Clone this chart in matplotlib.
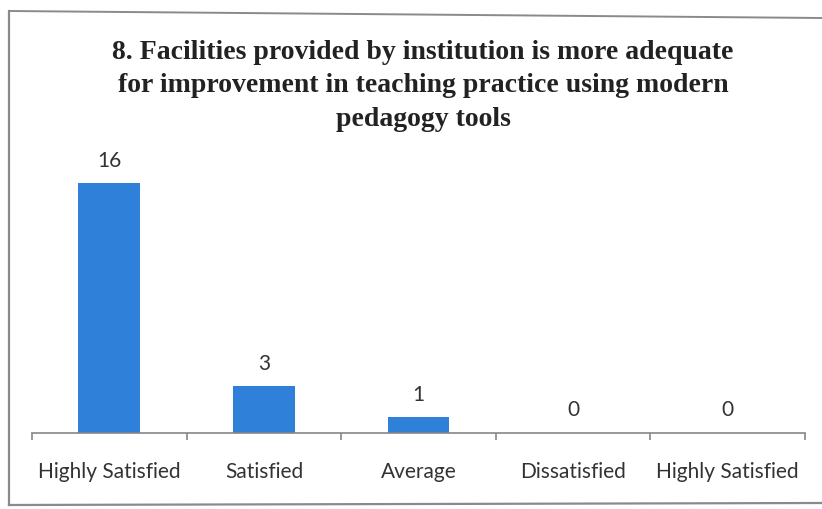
import matplotlib
matplotlib.use("Agg")
import matplotlib.pyplot as plt
from matplotlib.lines import Line2D

categories = ["Highly Satisfied", "Satisfied", "Average", "Dissatisfied", "Highly Satisfied"]
values = [16, 3, 1, 0, 0]
title = ("8. Facilities provided by institution is more adequate\n"
         "for improvement in teaching practice using modern\n"
         "pedagogy tools")

W, H = 822, 509
fig = plt.figure(figsize=(W / 100, H / 100), dpi=100)
fig.patch.set_facecolor("white")

# scanned frame
fig.add_artist(Line2D([9 / W, 9 / W], [1 - 11 / H, 1 - 505 / H], color="#8a8a8a", lw=1.6))
fig.add_artist(Line2D([9 / W, 1.0], [1 - 11 / H, 1 - 18 / H], color="#8a8a8a", lw=1.4))
fig.add_artist(Line2D([9 / W, 1.0], [1 - 505 / H, 1 - 503 / H], color="#8a8a8a", lw=1.6))

ax_left, ax_right, ax_bottom, ax_top = 32, 805, 433, 150
ax = fig.add_axes([ax_left / W, 1 - ax_bottom / H, (ax_right - ax_left) / W, (ax_bottom - ax_top) / H])
ax.set_facecolor("none")

x = list(range(len(categories)))
ax.bar(x, values, width=0.40, color="#2F80D9", zorder=2)
ax.set_xlim(-0.5, len(categories) - 0.5)
ax.set_ylim(0, (ax_bottom - ax_top) / 15.6)

for xi, v in zip(x, values):
    ax.annotate(str(v), (xi, v), xytext=(0, 9), textcoords="offset points",
                ha="center", va="bottom", fontsize=15, family="Lato", color="#333333")

for s in ["top", "right", "left"]:
    ax.spines[s].set_visible(False)
ax.spines["bottom"].set_color("#868686")
ax.spines["bottom"].set_linewidth(1.2)
ax.set_yticks([])
ax.set_xticks([i - 0.5 for i in range(len(categories) + 1)], minor=False)
ax.set_xticklabels([])
ax.tick_params(axis="x", which="major", direction="out", length=5, width=1.2, color="#868686")
ax.set_xticks(x, minor=True)
ax.set_xticklabels(categories, minor=True, fontsize=15, family="Lato", color="#333333")
ax.tick_params(axis="x", which="minor", length=0, pad=21)

fig.text(423 / W, 1 - 40 / H, title, ha="center", va="top", fontsize=20,
         family="Liberation Serif", fontweight="bold", color="#222222", linespacing=1.44)

fig.savefig("out.png", dpi=100)
